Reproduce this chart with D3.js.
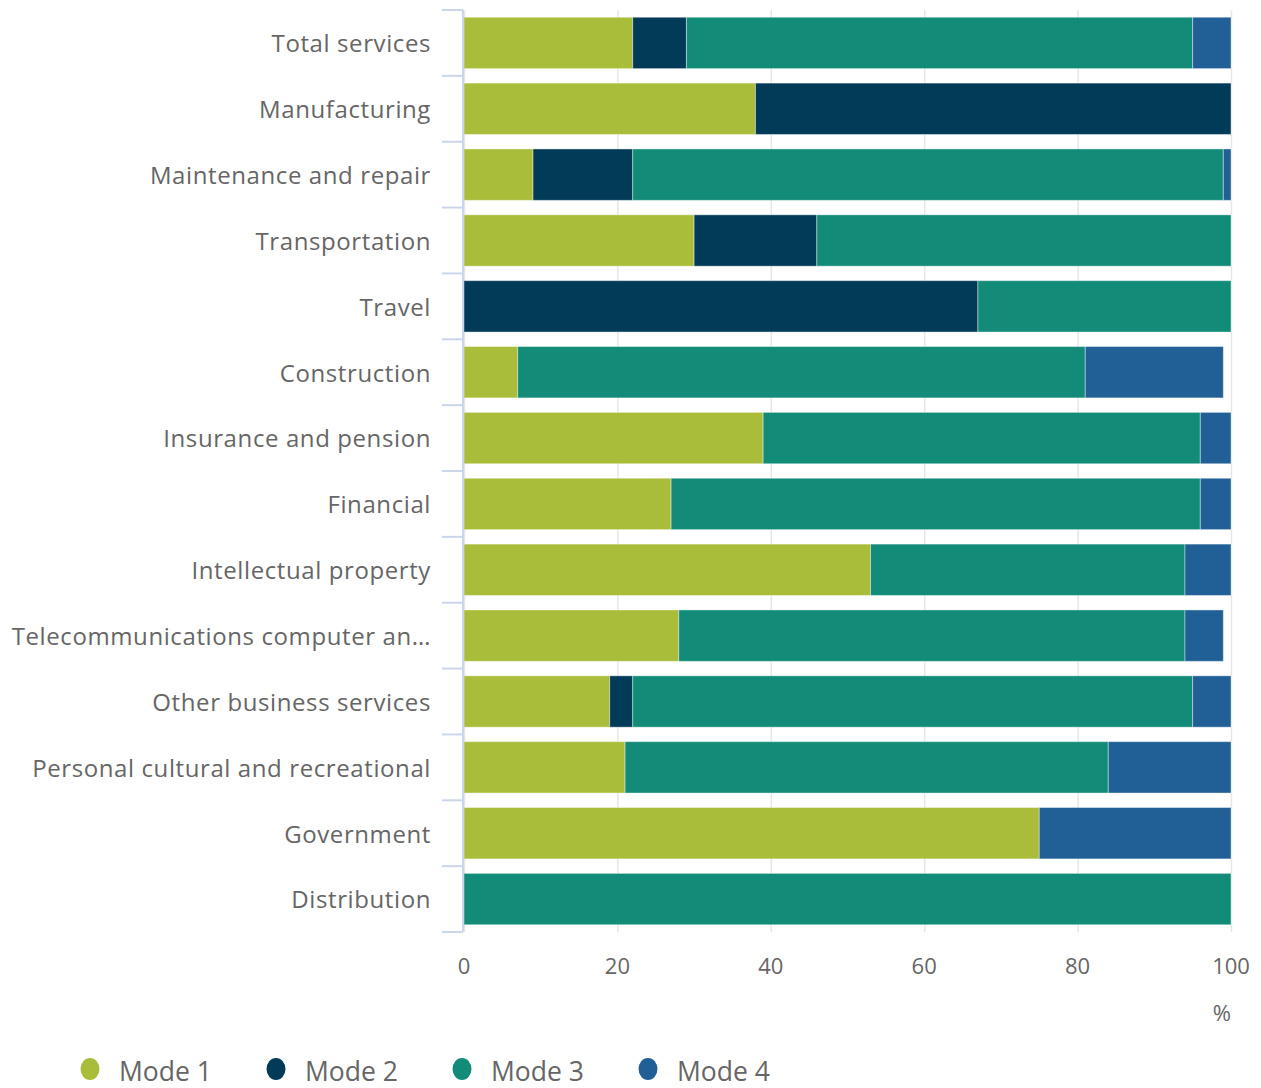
<!DOCTYPE html>
<html>
<head>
<meta charset="utf-8">
<script src="https://cdn.jsdelivr.net/npm/d3@7"></script>
<style>
  body { margin: 0; background: #fff; }
  svg { display: block; font-family: "Open Sans", sans-serif; }
</style>
</head>
<body>
<svg id="chart" width="1261" height="1088"></svg>
<script>
var categories = ["Total services", "Manufacturing", "Maintenance and repair", "Transportation",
  "Travel", "Construction", "Insurance and pension", "Financial", "Intellectual property",
  "Telecommunications computer and information", "Other business services",
  "Personal cultural and recreational", "Government", "Distribution"];

var mode1 = [22, 38, 9, 30, 0, 7, 39, 27, 53, 28, 19, 21, 75, 0];
var mode2 = [7, 62, 13, 16, 67, 0, 0, 0, 0, 0, 3, 0, 0, 0];
var mode3 = [66, 0, 77, 54, 33, 74, 57, 69, 41, 66, 73, 63, 0, 100];
var mode4 = [5, 0, 1, 0, 0, 18, 4, 4, 6, 5, 5, 16, 25, 0];

var seriesNames = ["Mode 1", "Mode 2", "Mode 3", "Mode 4"];
var seriesColors = ["#a9bd3a", "#023b57", "#128c79", "#216096"];
var xTicks = [0, 20, 40, 60, 80, 100];

(function() {
  var svg = d3.select("#chart");
  var plotLeft = 464, plotRight = 1231, plotTop = 10, plotBottom = 932;

  var x = d3.scaleLinear().domain([0, 100]).range([plotLeft, plotRight]);
  var y = d3.scaleBand().domain(categories).range([plotTop, plotBottom])
    .paddingInner(0.22).paddingOuter(0.11);
  var band = (plotBottom - plotTop) / categories.length;

  var rows = categories.map(function(c, i) {
    return { cat: c, "Mode 1": mode1[i], "Mode 2": mode2[i], "Mode 3": mode3[i], "Mode 4": mode4[i] };
  });
  var stacked = d3.stack().keys(seriesNames)(rows);

  // grid
  svg.append("g")
    .selectAll("line")
    .data(xTicks)
    .enter().append("line")
    .attr("x1", function(d) { return x(d) + 0.5; })
    .attr("x2", function(d) { return x(d) + 0.5; })
    .attr("y1", plotTop)
    .attr("y2", plotBottom)
    .attr("stroke", "#e6e6e6")
    .attr("stroke-width", 1.5);

  // bars
  svg.append("g")
    .selectAll("g")
    .data(stacked)
    .enter().append("g")
    .attr("fill", function(d, i) { return seriesColors[i]; })
    .selectAll("rect")
    .data(function(d) { return d.filter(function(p) { return p[1] > p[0]; }); })
    .enter().append("rect")
    .attr("x", function(d) { return x(d[0]); })
    .attr("width", function(d) { return x(d[1]) - x(d[0]); })
    .attr("y", function(d) { return y(d.data.cat); })
    .attr("height", y.bandwidth())
    .attr("stroke", "#ffffff")
    .attr("stroke-opacity", 0.4)
    .attr("stroke-width", 1);

  // category axis line and boundary ticks
  var axis = svg.append("g");
  axis.append("line")
    .attr("x1", plotLeft - 1).attr("x2", plotLeft - 1)
    .attr("y1", plotTop).attr("y2", plotBottom)
    .attr("stroke", "#ccd6eb").attr("stroke-width", 2);
  axis.selectAll("line.tick")
    .data(d3.range(categories.length + 1))
    .enter().append("line")
    .attr("class", "tick")
    .attr("x1", plotLeft - 22).attr("x2", plotLeft - 1)
    .attr("y1", function(i) { return plotTop + i * band; })
    .attr("y2", function(i) { return plotTop + i * band; })
    .attr("stroke", "#ccd6eb").attr("stroke-width", 2);

  // category labels
  var labels = axis.selectAll("text")
    .data(categories)
    .enter().append("text")
    .attr("x", 431)
    .attr("y", function(d) { return y(d) + y.bandwidth() / 2 + 1; })
    .attr("dy", "0.35em")
    .attr("text-anchor", "end")
    .attr("fill", "#666666")
    .style("font-size", "24px")
    .style("letter-spacing", "0.6px")
    .text(function(d) { return d; });

  labels.each(function() {
    var t = d3.select(this), s = t.text();
    if (this.getComputedTextLength() <= 423) return;
    while (s.length > 1) {
      s = s.slice(0, -1);
      t.text(s.trimEnd() + "…");
      if (this.getComputedTextLength() <= 423) break;
    }
  });

  // x tick labels
  svg.append("g")
    .selectAll("text")
    .data(xTicks)
    .enter().append("text")
    .attr("x", function(d) { return x(d); })
    .attr("y", 966)
    .attr("dy", "0.35em")
    .attr("text-anchor", "middle")
    .attr("fill", "#666666")
    .style("font-size", "22px")
    .text(function(d) { return d; });

  svg.append("text")
    .attr("x", plotRight)
    .attr("y", 1013)
    .attr("dy", "0.35em")
    .attr("text-anchor", "end")
    .attr("fill", "#666666")
    .style("font-size", "22px")
    .text("%");

  // legend
  var legend = svg.append("g")
    .selectAll("g")
    .data(seriesNames)
    .enter().append("g")
    .attr("transform", function(d, i) { return "translate(" + (90 + i * 186) + ",0)"; });
  legend.append("ellipse")
    .attr("cy", 1069)
    .attr("rx", 9.5).attr("ry", 11)
    .attr("fill", function(d, i) { return seriesColors[i]; });
  legend.append("text")
    .attr("x", 29)
    .attr("y", 1081)
    .attr("fill", "#666666")
    .style("font-size", "26.5px")
    .text(function(d) { return d; });
})();
</script>
</body>
</html>
